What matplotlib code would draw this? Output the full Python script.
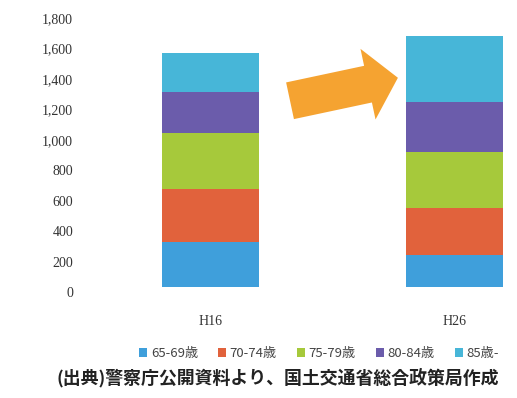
import numpy as np
import matplotlib.pyplot as plt

plt.rcParams['font.family'] = ['Noto Sans CJK JP', 'DejaVu Sans']

# values (stacked, bottom to top)
years = ['H16', 'H26']
age_groups = ['65-69歳', '70-74歳', '75-79歳', '80-84歳', '85歳-']
h16 = [298, 347, 367, 268, 260]
h26 = [211, 307, 368, 333, 432]
colors = ['#3F9FDB', '#E1623C', '#A6C93B', '#6B5CAB', '#47B6D8']
yticks = list(range(0, 1801, 200))

data = np.array([h16, h26]).T  # rows = age groups

fig = plt.figure(figsize=(5.17, 3.98), dpi=100)
ax = fig.add_axes([0.155, 0.279, 0.845, 0.688])

x = np.arange(len(years))
bottom = np.zeros(len(years))
for i, grp in enumerate(age_groups):
    ax.bar(x, data[i], 0.4, bottom=bottom, color=colors[i], label=grp)
    bottom += data[i]

ax.set_xlim(-0.534, 1.256)
ax.set_ylim(0, 1800)
ax.set_yticks(yticks)
ax.set_yticklabels([f'{v:,}' for v in yticks], family='Liberation Serif',
                   fontsize=10, color='#333333', va='top')
ax.set_xticks(x)
ax.set_xticklabels(years, family='Liberation Serif', fontsize=10, color='#333333')
ax.tick_params(axis='y', length=0, pad=5)
ax.tick_params(axis='x', length=0, pad=20)
for s in ax.spines.values():
    s.set_visible(False)

# orange arrow between the bars
ax.annotate('', xy=(0.768, 1375), xytext=(0.326, 1224),
            arrowprops=dict(arrowstyle='simple,head_width=2.6,head_length=1.1,tail_width=1.35',
                            mutation_scale=20, color='#F5A331', lw=0,
                            shrinkA=0, shrinkB=0))

fig.legend(loc='center', bbox_to_anchor=(0.617, 0.111), ncol=5, frameon=False,
           handlelength=0.6, handleheight=0.6, handletextpad=0.3, columnspacing=1.5,
           fontsize=9.5, labelcolor='#444444')

fig.text(0.538, 0.05, '(出典)警察庁公開資料より、国土交通省総合政策局作成',
         ha='center', va='center', fontsize=12.9, fontweight='bold', color='#222222')

fig.savefig('out.png', dpi=100)
